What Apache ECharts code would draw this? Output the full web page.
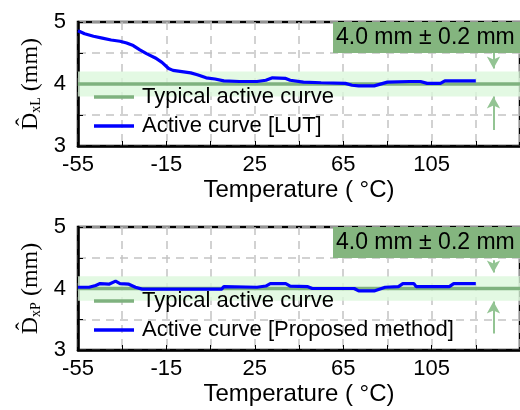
<!DOCTYPE html>
<html>
<head>
<meta charset="utf-8">
<script src="https://cdn.jsdelivr.net/npm/echarts@6/dist/echarts.min.js"></script>
<style>html,body{margin:0;padding:0;background:#fff}#c{width:520px;height:410px}</style>
</head>
<body>
<div id="c"></div>
<script>
// ---- data ----
const lutTemp = [-55,-52,-48,-44,-40,-36,-33,-30,-27,-24,-20,-17,-14,-12,-8,-4,-1,3,7,11,18,26,30,33,39,41,47,55,66,69,72,79,85,95,100,103,109,111,125];
const lutVal  = [4.86,4.81,4.77,4.74,4.71,4.69,4.66,4.62,4.55,4.49,4.42,4.35,4.25,4.22,4.20,4.18,4.15,4.10,4.08,4.05,4.04,4.04,4.06,4.10,4.09,4.06,4.03,4.02,4.01,3.98,3.97,3.97,4.03,4.04,4.04,4.01,4.01,4.05,4.05];
const propTemp = [-55,-50,-47,-45,-41,-38,-36,-32,-29,-26,10,11,26,30,32,39,41,49,51,70,72,79,84,90,92,97,98,113,115,125];
const propVal  = [4.02,4.02,4.05,4.08,4.07,4.12,4.08,4.07,4.02,3.99,3.99,4.03,4.02,4.04,4.08,4.08,4.04,4.03,4.00,4.00,3.96,3.96,4.02,4.03,4.08,4.08,4.03,4.03,4.08,4.08];
const xTickLabels = [-55, -15, 25, 65, 105];
const yTickLabels = [3, 4, 5];
const typicalValue = 4.0;
const tolerance = 0.2;
const xRange = [-55, 145];
const yRange = [3, 5];
const boxText = '4.0 mm \u00B1 0.2 mm';
const legendTypical = 'Typical active curve';
const legendLUT = 'Active curve [LUT]';
const legendProp = 'Active curve [Proposed method]';
const arrowTemp = 133;

// ---- styles ----
const SANS = '"Liberation Sans", Arial, sans-serif';
const SERIF = '"Liberation Serif", "DejaVu Serif", serif';
const GREEN = '#7fb27f';
const BAND = '#dcf8dc';
const BOXC = '#84b57f';
const ARROW = '#93c493';
const GRIDC = '#c4c4c4';

function xAxisCfg(gi){
  return {
    gridIndex: gi, type: 'value', min: xRange[0], max: xRange[1], interval: 20,
    name: 'Temperature ( \u00B0C)', nameLocation: 'middle', nameGap: 32,
    nameTextStyle: {fontFamily: SANS, fontSize: 24, color: '#000'},
    axisLine: {show: true, onZero: false, lineStyle: {color: '#000', width: 2.5}},
    axisTick: {show: true, inside: true, length: 5, lineStyle: {color: '#000', width: 1}},
    axisLabel: {margin: 8, fontFamily: SANS, fontSize: 22, color: '#000', showMaxLabel: false,
      formatter: v => (xTickLabels.indexOf(v) >= 0 ? String(v) : '')},
    splitLine: {show: true, lineStyle: {color: GRIDC, width: 1.5, type: [8, 6]}}
  };
}
function yAxisCfg(gi, sub){
  return {
    gridIndex: gi, type: 'value', min: yRange[0], max: yRange[1], interval: 0.5,
    name: '{d|D\u0302}{s|' + sub + '} {p|(mm)}', nameLocation: 'middle', nameGap: 22, nameRotate: 90,
    nameTextStyle: {fontFamily: SERIF, fontSize: 24, color: '#000',
      rich: {d: {fontFamily: SERIF, fontSize: 24, color: '#000'},
             s: {fontFamily: SERIF, fontSize: 14, color: '#000', verticalAlign: 'bottom', padding: [8,0,0,0]},
             p: {fontFamily: SERIF, fontSize: 24, color: '#000'}}},
    axisLine: {show: true, onZero: false, lineStyle: {color: '#000', width: 2.5}},
    axisTick: {show: true, inside: true, length: 5, lineStyle: {color: '#000', width: 1}},
    axisLabel: {margin: 12, fontFamily: SANS, fontSize: 22, color: '#000',
      formatter: v => (yTickLabels.indexOf(v) >= 0 ? String(v) : '')},
    splitLine: {show: true, lineStyle: {color: GRIDC, width: 1.5, type: [8, 6]}}
  };
}
function pairs(xs, ys){ return xs.map((x, i) => [x, ys[i]]); }

function typicalSeries(gi, top, bottomTail){
  return {
    name: legendTypical, type: 'line', xAxisIndex: gi, yAxisIndex: gi,
    data: [[xRange[0], typicalValue], [xRange[1], typicalValue]],
    symbol: 'none', lineStyle: {color: GREEN, width: 3.5}, itemStyle: {color: GREEN},
    z: 2, silent: true,
    markArea: {silent: true, itemStyle: {color: BAND, opacity: 0.8},
      data: [[{coord: [xRange[0], typicalValue - tolerance]}, {coord: [xRange[1], typicalValue + tolerance]}]]},
    markLine: {silent: true, symbol: ['none', 'arrow'], symbolSize: [10, 12],
      lineStyle: {color: ARROW, width: 2, type: 'solid'}, label: {show: false},
      data: [
        [{coord: [arrowTemp, top[0]]}, {coord: [arrowTemp, top[1]]}],
        [{coord: [arrowTemp, bottomTail[0]]}, {coord: [arrowTemp, bottomTail[1]]}]
      ]}
  };
}
function activeSeries(gi, name, xs, ys){
  return {
    name: name, type: 'line', xAxisIndex: gi, yAxisIndex: gi,
    data: pairs(xs, ys), symbol: 'none', z: 3,
    lineStyle: {color: '#0000ff', width: 3.2}, itemStyle: {color: '#0000ff'}
  };
}
function legendCfg(top, names){
  return {
    orient: 'vertical', left: 94, top: top, padding: 0, itemGap: 7, itemWidth: 40, itemHeight: 3.5,
    icon: 'rect', data: names, selectedMode: false,
    textStyle: {fontFamily: SANS, fontSize: 22, color: '#000', padding: [0, 0, 0, 3]}
  };
}
function boxGraphic(y){
  return [
    {type: 'rect', left: 333, top: y, shape: {width: 200, height: 31}, style: {fill: BOXC}, z: 100},
    {type: 'text', left: 336, top: y + 4, style: {text: boxText, fill: '#000', font: '23px ' + SANS}, z: 101}
  ];
}

const chart = echarts.init(document.getElementById('c'), null, {renderer: 'canvas'});
chart.setOption({
  animation: false,
  backgroundColor: '#fff',
  grid: [
    {left: 78, top: 22, width: 449, height: 124, show: true, borderColor: '#000', borderWidth: 2.5, backgroundColor: 'transparent'},
    {left: 78, top: 227, width: 449, height: 123, show: true, borderColor: '#000', borderWidth: 2.5, backgroundColor: 'transparent'}
  ],
  xAxis: [xAxisCfg(0), xAxisCfg(1)],
  yAxis: [yAxisCfg(0, 'xL'), yAxisCfg(1, 'xP')],
  legend: [legendCfg(86, [legendTypical, legendLUT]), legendCfg(290, [legendTypical, legendProp])],
  graphic: boxGraphic(22).concat(boxGraphic(227)),
  series: [
    typicalSeries(0, [4.50, 4.25], [3.26, 3.80]),
    activeSeries(0, legendLUT, lutTemp, lutVal),
    typicalSeries(1, [4.46, 4.26], [3.27, 3.79]),
    activeSeries(1, legendProp, propTemp, propVal)
  ]
});
</script>
</body>
</html>
